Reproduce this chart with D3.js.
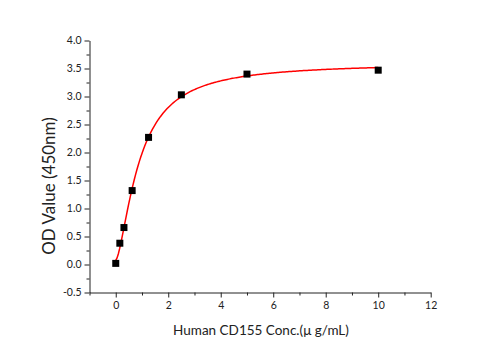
<!DOCTYPE html>
<html>
<head>
<meta charset="utf-8">
<script src="https://cdn.jsdelivr.net/npm/d3@7"></script>
<style>
  body { margin: 0; background: #fff; }
  svg text { font-family: Lato, "Open Sans", sans-serif; fill: #222; }
</style>
</head>
<body>
<svg id="chart" width="501" height="350"></svg>
<script>
// Concentration of Human CD155 (µg/mL) and measured OD at 450 nm
const concentrations = [0, 0.156, 0.3125, 0.625, 1.25, 2.5, 5, 10];
const odValues = [0.02, 0.38, 0.66, 1.32, 2.27, 3.03, 3.40, 3.47];
const xTicks = [0, 2, 4, 6, 8, 10, 12];
const yTicks = [-0.5, 0.0, 0.5, 1.0, 1.5, 2.0, 2.5, 3.0, 3.5, 4.0];

const svg = d3.select("#chart");
const x = d3.scaleLinear().domain([-1, 12]).range([89.5, 430.7]);
const y = d3.scaleLinear().domain([-0.5, 4.0]).range([292.5, 40.5]);

// Four-parameter logistic fit of the measured points (Nelder–Mead least squares)
function model(p, c) {
  const [a, b, k, n] = p;
  const cn = Math.pow(Math.max(c, 0), n);
  return a + (b - a) * cn / (Math.pow(Math.abs(k), n) + cn);
}
function sse(p) {
  let s = 0;
  concentrations.forEach((c, i) => { const r = model(p, c) - odValues[i]; s += r * r; });
  return s;
}
function nelderMead(f, start, iters) {
  const dim = start.length;
  let simplex = [start.slice()];
  for (let i = 0; i < dim; i++) {
    const v = start.slice(); v[i] = v[i] * 1.2 + 0.05; simplex.push(v);
  }
  let vals = simplex.map(f);
  for (let it = 0; it < iters; it++) {
    const idx = d3.range(dim + 1).sort((i, j) => vals[i] - vals[j]);
    simplex = idx.map(i => simplex[i]); vals = idx.map(i => vals[i]);
    const cen = d3.range(dim).map(d => d3.mean(simplex.slice(0, dim), v => v[d]));
    const worst = simplex[dim];
    const pt = t => cen.map((c, d) => c + t * (worst[d] - c));
    const xr = pt(-1), fr = f(xr);
    if (fr < vals[0]) {
      const xe = pt(-2), fe = f(xe);
      if (fe < fr) { simplex[dim] = xe; vals[dim] = fe; } else { simplex[dim] = xr; vals[dim] = fr; }
    } else if (fr < vals[dim - 1]) {
      simplex[dim] = xr; vals[dim] = fr;
    } else {
      const xc = pt(0.5), fc = f(xc);
      if (fc < vals[dim]) { simplex[dim] = xc; vals[dim] = fc; }
      else {
        for (let i = 1; i <= dim; i++) {
          simplex[i] = simplex[i].map((v, d) => simplex[0][d] + 0.5 * (v - simplex[0][d]));
          vals[i] = f(simplex[i]);
        }
      }
    }
  }
  return simplex[d3.minIndex(vals)];
}
const params = nelderMead(sse, [0.03, 3.6, 1.0, 1.5], 2000);
const fitX = d3.range(0, 10.0001, 0.05);

// Tick labels with a plain hyphen for negatives
const fmtY = v => v.toFixed(1);

// Axes
svg.append("g").attr("transform", `translate(${x(-1)},0)`)
  .call(d3.axisLeft(y).tickValues(yTicks).tickFormat(fmtY).tickSize(5).tickSizeOuter(0).tickPadding(3));
svg.append("g").attr("transform", `translate(${x(-1)},0)`)
  .call(d3.axisLeft(y).tickValues(d3.range(-0.25, 4, 0.5)).tickFormat("").tickSize(3).tickSizeOuter(0))
  .select(".domain").remove();
svg.append("g").attr("transform", `translate(0,${y(-0.5)})`)
  .call(d3.axisBottom(x).tickValues(xTicks).tickSize(5).tickSizeOuter(0).tickPadding(4));
svg.append("g").attr("transform", `translate(0,${y(-0.5)})`)
  .call(d3.axisBottom(x).tickValues([-1, 1, 3, 5, 7, 9, 11]).tickFormat("").tickSize(3).tickSizeOuter(0))
  .select(".domain").remove();
svg.selectAll(".domain, .tick line").attr("stroke", "#222").attr("stroke-width", 1);
svg.selectAll(".tick text").style("font-size", "10.5px").attr("fill", "#222");

// Axis titles
svg.append("text").attr("x", 261).attr("y", 335).attr("text-anchor", "middle")
  .style("font-size", "13.5px").text("Human CD155 Conc.(\u03bc g/mL)");
svg.append("text").attr("transform", "translate(55,186) rotate(-90)").attr("text-anchor", "middle")
  .style("font-size", "17px").text("OD Value (450nm)");

// Fitted curve
svg.append("path")
  .datum(fitX)
  .attr("fill", "none").attr("stroke", "#ff0000").attr("stroke-width", 1.5)
  .attr("d", d3.line().x(c => x(c)).y(c => y(model(params, c))));

// Measured points
svg.selectAll("rect.pt").data(concentrations).join("rect").attr("class", "pt")
  .attr("x", c => x(c) - 3.5).attr("y", (c, i) => y(odValues[i]) - 3.5)
  .attr("width", 7).attr("height", 7).attr("fill", "#000");
</script>
</body>
</html>
